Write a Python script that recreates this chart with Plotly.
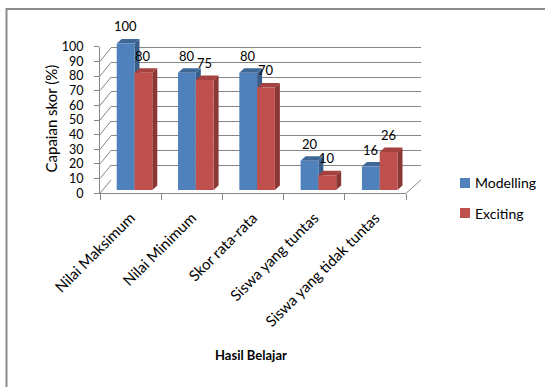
import plotly.graph_objects as go

categories = ["Nilai Maksimum", "Nilai Minimum", "Skor rata-rata", "Siswa yang tuntas", "Siswa yang tidak tuntas"]
series_names = ["Modelling", "Exciting"]
modelling = [100, 80, 80, 20, 16]
exciting = [80, 75, 70, 10, 26]
y_ticks = list(range(0, 101, 10))

W, H = 545, 387
FONT = "Lato"
GRID = "#868686"
BLUE, BLUE_SIDE, BLUE_TOP = "#4F81BD", "#385D8A", "#3F6898"
RED, RED_SIDE, RED_TOP = "#C0504D", "#8A3735", "#A5413E"
SERIES_COLORS = [BLUE, RED]


def px(x):
    return x / W


def py(y):
    return 1 - y / H


# geometry (pixels)
FRONT_X0, FRONT_X1 = 100, 406
FRONT_Y0, FRONT_Y100 = 193.3, 46.7
DEPTH_X_L, DEPTH_X_R, DEPTH_Y = 11, 15, 13.5
SCALE = (FRONT_Y0 - FRONT_Y100) / 100.0

BAR_Y0 = 190.0
BAR_X0 = 103.85
CAT_W = 61.3
BAR_W = 0.29
FACE_DX = 5.0 / CAT_W
FACE_DY = 4.5 / SCALE
BAR_YMAX = 112

fig = go.Figure()

# back wall subplot (x, y)
fig.add_trace(go.Scatter(x=[0], y=[None], xaxis="x", yaxis="y", showlegend=False, hoverinfo="skip"))
# front axis subplot (x2, y2)
fig.add_trace(go.Bar(x=categories, y=[0] * len(categories), xaxis="x2", yaxis="y2",
                     marker=dict(color="rgba(0,0,0,0)", line=dict(width=0)),
                     showlegend=False, hoverinfo="skip"))

xs = list(range(len(categories)))
for name, vals, col, off in [(series_names[0], modelling, BLUE, -BAR_W),
                             (series_names[1], exciting, RED, 0.0)]:
    fig.add_trace(go.Bar(x=xs, y=vals, name=name, xaxis="x3", yaxis="y3",
                         width=BAR_W, offset=off, showlegend=False,
                         marker=dict(color=col, line=dict(width=0))))

shapes = []
# 3D faces of bars
for vals, off, side, top in [(modelling, -BAR_W, BLUE_SIDE, BLUE_TOP), (exciting, 0.0, RED_SIDE, RED_TOP)]:
    for i, v in enumerate(vals):
        x0 = i + off
        x1 = x0 + BAR_W
        shapes.append(dict(type="path", xref="x3", yref="y3", layer="below",
                           path=f"M{x1},0 L{x1+FACE_DX},{FACE_DY} L{x1+FACE_DX},{v+FACE_DY} L{x1},{v} Z",
                           fillcolor=side, line=dict(width=0)))
        shapes.append(dict(type="path", xref="x3", yref="y3", layer="below",
                           path=f"M{x0},{v} L{x0+FACE_DX},{v+FACE_DY} L{x1+FACE_DX},{v+FACE_DY} L{x1},{v} Z",
                           fillcolor=top, line=dict(width=0)))

# side wall diagonals
for t in y_ticks:
    shapes.append(dict(type="line", xref="paper", yref="y2", ysizemode="pixel", yanchor=t,
                       x0=px(FRONT_X0), x1=px(FRONT_X0 + DEPTH_X_L), y0=0, y1=DEPTH_Y,
                       line=dict(color=GRID, width=1)))
# right floor diagonal
shapes.append(dict(type="line", xref="paper", yref="y2", ysizemode="pixel", yanchor=0,
                   x0=px(FRONT_X1), x1=px(FRONT_X1 + DEPTH_X_R), y0=0, y1=DEPTH_Y,
                   line=dict(color=GRID, width=1)))
# chart frame (top and left edges)
shapes.append(dict(type="line", xref="paper", yref="paper", x0=px(6), x1=1, y0=py(9), y1=py(9),
                   line=dict(color="#8C8C8C", width=2)))
shapes.append(dict(type="line", xref="paper", yref="paper", x0=px(6.5), x1=px(6.5), y0=py(8), y1=0,
                   line=dict(color="#8C8C8C", width=2)))

# custom legend
LEG_X, LEG_Y0, LEG_DY, SQ = 465, 183, 30, 10
annotations = []
for k, (name, col) in enumerate(zip(series_names, SERIES_COLORS)):
    cy = LEG_Y0 + k * LEG_DY
    shapes.append(dict(type="rect", xref="paper", yref="paper",
                       x0=px(LEG_X - SQ / 2), x1=px(LEG_X + SQ / 2),
                       y0=py(cy + SQ / 2), y1=py(cy - SQ / 2),
                       fillcolor=col, line=dict(width=0)))
    annotations.append(dict(x=px(LEG_X + 8), y=py(cy), xref="paper", yref="paper", text=name,
                            xanchor="left", yanchor="middle", showarrow=False,
                            font=dict(family=FONT, size=14, color="black")))

for vals, off in [(modelling, -BAR_W / 2), (exciting, BAR_W / 2)]:
    for i, v in enumerate(vals):
        annotations.append(dict(x=i + off, y=v, xref="x3", yref="y3", text=str(v), showarrow=False,
                                xanchor="center", yanchor="middle",
                                yshift=17, font=dict(family=FONT, size=13, color="black")))
annotations.append(dict(x=px(50), y=py(118.5), xref="paper", yref="paper", text="Capaian skor (%)",
                        xanchor="center", yanchor="middle",
                        textangle=-90, showarrow=False, font=dict(family=FONT, size=15, color="black")))
annotations.append(dict(x=px(251), y=py(355), xref="paper", yref="paper", text="<b>Hasil Belajar</b>",
                        xanchor="center", yanchor="middle",
                        showarrow=False, font=dict(family=FONT, size=13, color="black")))

back_top = FRONT_Y100 - DEPTH_Y
back_bot = FRONT_Y0 - DEPTH_Y

fig.update_layout(
    template="none",
    width=W, height=H,
    margin=dict(l=0, r=0, t=0, b=0, autoexpand=False),
    paper_bgcolor="white", plot_bgcolor="rgba(0,0,0,0)",
    barmode="overlay", showlegend=False,
    font=dict(family=FONT, size=12.5, color="black"),
    shapes=shapes, annotations=annotations,
    xaxis=dict(domain=[px(FRONT_X0 + DEPTH_X_L), px(FRONT_X1 + DEPTH_X_R)], range=[0, 1], anchor="y",
               showgrid=False, showticklabels=False, zeroline=False, showline=False, fixedrange=True,
               automargin=False, ticks=""),
    yaxis=dict(domain=[py(back_bot + 0.5), py(back_top - 0.5)],
               range=[-100 * 0.5 / (back_bot - back_top), 100 + 100 * 0.5 / (back_bot - back_top)],
               anchor="x", tickvals=y_ticks, showgrid=True, gridcolor=GRID, gridwidth=1,
               showticklabels=False, zeroline=False, showline=False, ticks="", automargin=False),
    xaxis2=dict(domain=[px(FRONT_X0), px(FRONT_X1)], anchor="y2", type="category",
                categoryorder="array", categoryarray=categories, range=[-0.5, len(categories) - 0.5],
                tickson="boundaries", ticks="outside", ticklen=6, tickcolor=GRID, tickangle=-45,
                ticklabelstandoff=9,
                showline=True, linecolor=GRID, linewidth=1, showgrid=False, zeroline=False,
                automargin=False, tickfont=dict(family=FONT, size=15, color="black")),
    yaxis2=dict(domain=[py(FRONT_Y0), py(FRONT_Y100)], anchor="x2", range=[0, 100], tickvals=y_ticks,
                ticks="outside", ticklen=5, tickcolor=GRID, showline=True, linecolor=GRID, linewidth=1,
                ticklabelstandoff=8,
                showgrid=False, zeroline=False, automargin=False,
                tickfont=dict(family=FONT, size=12.5, color="black")),
    xaxis3=dict(domain=[px(BAR_X0), px(BAR_X0 + CAT_W * 5)], anchor="y3", range=[-0.5, 4.5],
                visible=False, fixedrange=True, automargin=False),
    yaxis3=dict(domain=[py(BAR_Y0), py(BAR_Y0 - SCALE * BAR_YMAX)], anchor="x3", range=[0, BAR_YMAX],
                visible=False, automargin=False),
)

fig.write_html("out.html")
